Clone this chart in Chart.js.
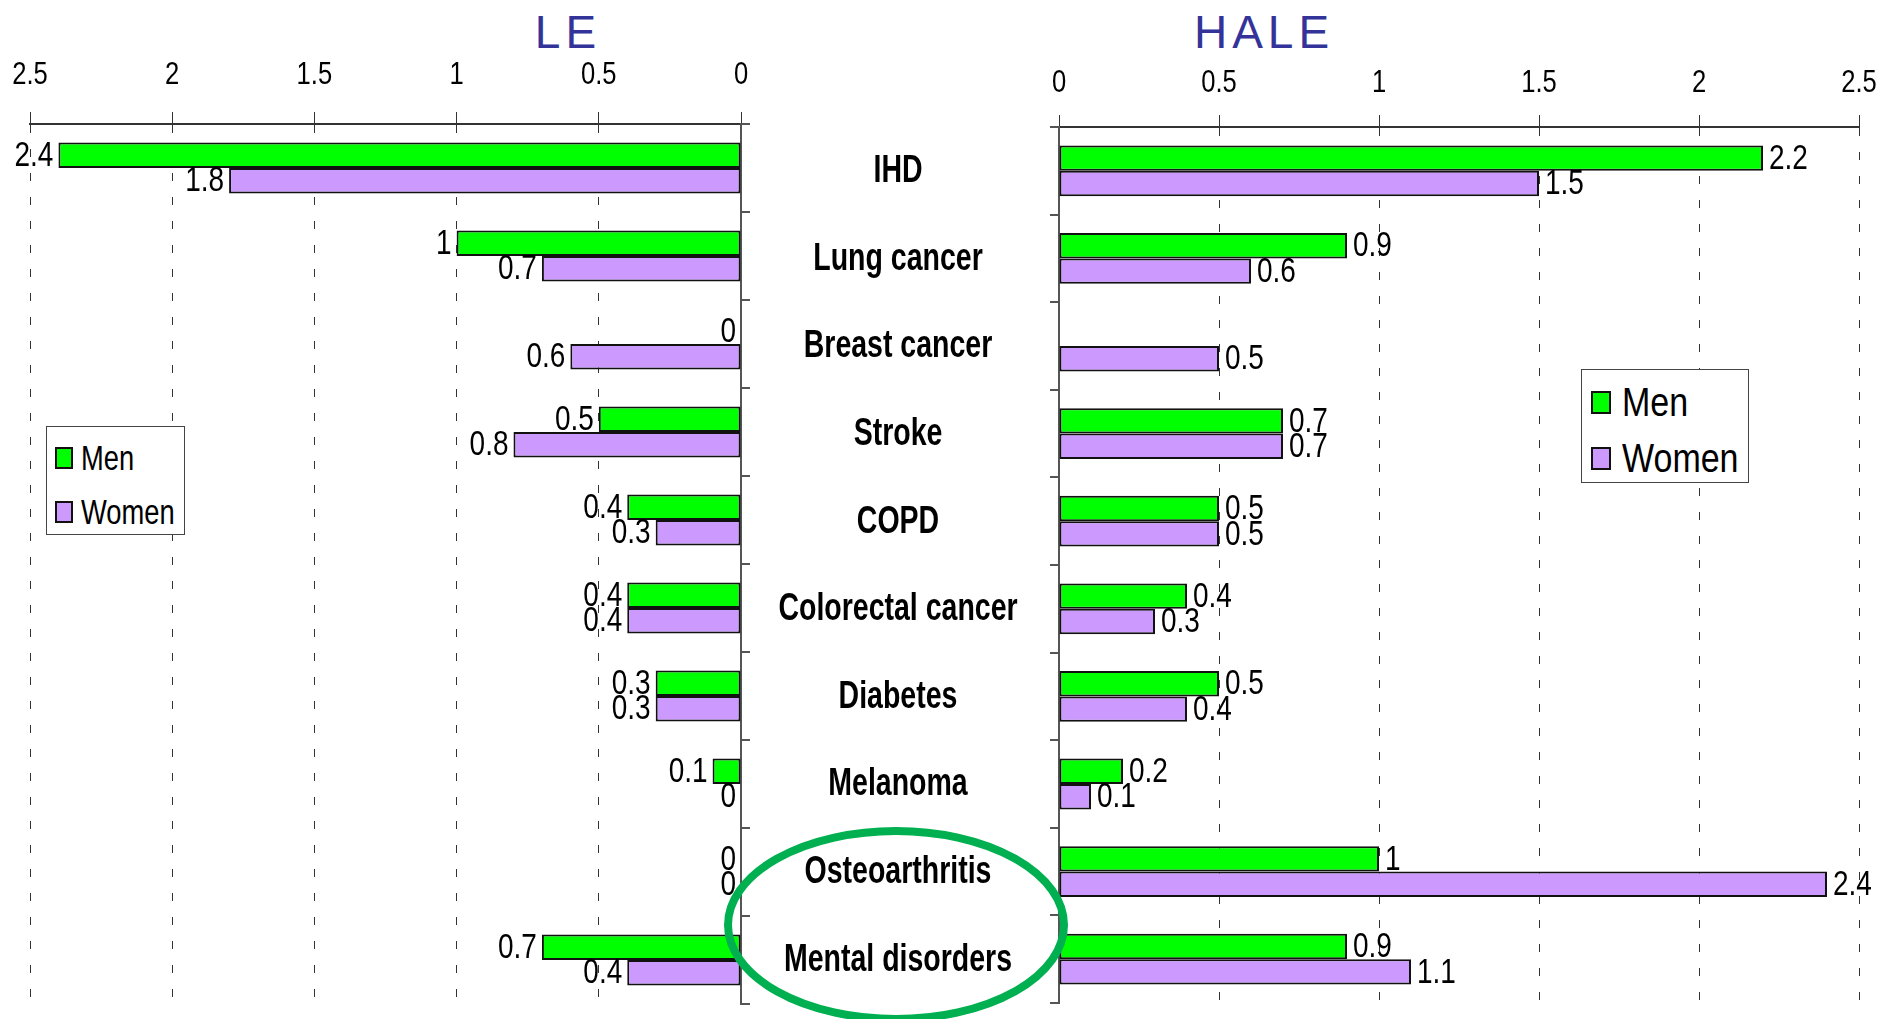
<!DOCTYPE html>
<html>
<head>
<meta charset="utf-8">
<title>LE and HALE by cause</title>
<script src="https://cdn.jsdelivr.net/npm/chart.js@4.4.1/dist/chart.umd.min.js"></script>
<style>
  body { margin:0; width:1883px; height:1019px; background:#fff; position:relative; overflow:hidden;
         font-family:'Liberation Sans',Arial,sans-serif; }
  .wrap { position:absolute; top:0; height:1019px; }
  #leftWrap { left:-40px; width:810px; }
  #rightWrap { left:745px; width:1178px; }
  .title { position:absolute; width:400px; text-align:center; font-size:46px; line-height:46px;
           letter-spacing:5px; color:#333399; }
  .legend { position:absolute; background:#fff; border:1.5px solid #444; box-sizing:border-box; }
  .legend .row { position:absolute; left:0; display:flex; align-items:center; color:#000; white-space:nowrap; }
  .legend .sw { border:2px solid #111; box-sizing:border-box; flex:none; }
  .legend span { display:inline-block; transform-origin:left center; }
  #ring { position:absolute; left:0; top:0; pointer-events:none; }
</style>
</head>
<body>

<div class="title" style="left:368px; top:9px;">LE</div>
<div class="title" style="left:1064px; top:9px;">HALE</div>

<div class="wrap" id="leftWrap"><canvas id="leChart"></canvas></div>
<div class="wrap" id="rightWrap"><canvas id="haleChart"></canvas></div>

<div class="legend" id="legLeft" style="left:46px; top:426px; width:139px; height:109px;"></div>
<div class="legend" id="legRight" style="left:1581px; top:369px; width:168px; height:114px;"></div>

<svg id="ring" width="1883" height="1019">
  <ellipse cx="896" cy="925" rx="168" ry="94" fill="none" stroke="#00B050" stroke-width="8"/>
</svg>

<script>
var categories = ['IHD', 'Lung cancer', 'Breast cancer', 'Stroke', 'COPD', 'Colorectal cancer',
                  'Diabetes', 'Melanoma', 'Osteoarthritis', 'Mental disorders'];
var seriesNames = ['Men', 'Women'];
var leMen = [2.4, 1, 0, 0.5, 0.4, 0.4, 0.3, 0.1, 0, 0.7];
var leWomen = [1.8, 0.7, 0.6, 0.8, 0.3, 0.4, 0.3, 0, 0, 0.4];
var haleMen = [2.2, 0.9, null, 0.7, 0.5, 0.4, 0.5, 0.2, 1, 0.9];
var haleWomen = [1.5, 0.6, 0.5, 0.7, 0.5, 0.3, 0.4, 0.1, 2.4, 1.1];
var xTicks = [0, 0.5, 1, 1.5, 2, 2.5];
var seriesColors = ['#00FF00', '#CC99FF'];

var FONT = "'Liberation Sans',Arial,sans-serif";

// no narrow font installed, so squeeze the text horizontally
function narrowText(ctx, text, x, y, align, sx) {
  ctx.save();
  ctx.translate(x, y);
  ctx.scale(sx, 1);
  ctx.textAlign = align;
  ctx.fillText(text, 0, 0);
  ctx.restore();
}

// axis numbers along the top
var tickLabels = {
  id: 'tickLabels',
  afterDraw: function(chart, args, opts) {
    var ctx = chart.ctx;
    var xs = chart.scales.x;
    ctx.save();
    ctx.font = '32px ' + FONT;
    ctx.fillStyle = '#000';
    ctx.textBaseline = 'middle';
    xTicks.forEach(function(v) {
      narrowText(ctx, String(v), xs.getPixelForValue(v), opts.y, 'center', 0.8);
    });
    ctx.restore();
  }
};

// value written at the end of each bar
var valueLabels = {
  id: 'valueLabels',
  afterDatasetsDraw: function(chart, args, opts) {
    var ctx = chart.ctx;
    ctx.save();
    ctx.font = '35px ' + FONT;
    ctx.fillStyle = '#000';
    ctx.textBaseline = 'middle';
    chart.data.datasets.forEach(function(ds, i) {
      chart.getDatasetMeta(i).data.forEach(function(bar, j) {
        var v = ds.data[j];
        if (v === null) return;
        if (opts.side == 'left') {
          narrowText(ctx, String(v), bar.x - 5, bar.y + 1, 'right', 0.8);
        } else {
          narrowText(ctx, String(v), bar.x + 6, bar.y + 1, 'left', 0.8);
        }
      });
    });
    ctx.restore();
  }
};

// cause names in the gap between the two panels
var categoryLabels = {
  id: 'categoryLabels',
  afterDraw: function(chart, args, opts) {
    if (!opts.show) return;
    var ctx = chart.ctx;
    var y = chart.scales.y;
    ctx.save();
    ctx.font = 'bold 38px ' + FONT;
    ctx.fillStyle = '#000';
    ctx.textBaseline = 'middle';
    categories.forEach(function(c, i) {
      narrowText(ctx, c, opts.x, y.getPixelForValue(i) + 1, 'center', 0.75);
    });
    ctx.restore();
  }
};

function makeChart(id, men, women, side) {
  var left = side == 'left';
  return new Chart(document.getElementById(id), {
    type: 'bar',
    data: {
      labels: categories,
      datasets: [
        { label: seriesNames[0], data: men, backgroundColor: seriesColors[0], borderColor: '#111',
          borderWidth: 2, borderSkipped: false, categoryPercentage: 0.58, barPercentage: 1.0 },
        { label: seriesNames[1], data: women, backgroundColor: seriesColors[1], borderColor: '#111',
          borderWidth: 2, borderSkipped: false, categoryPercentage: 0.58, barPercentage: 1.0 }
      ]
    },
    options: {
      indexAxis: 'y',
      responsive: true,
      maintainAspectRatio: false,
      animation: false,
      layout: { padding: left ? { left: 70, right: 0, top: 0, bottom: 15 }
                              : { left: 0, right: 64, top: 0, bottom: 16 } },
      plugins: {
        legend: { display: false },
        tooltip: { enabled: false },
        valueLabels: { side: side },
        tickLabels: { y: left ? 75 : 83 },
        categoryLabels: { show: !left, x: 153 }
      },
      scales: {
        x: {
          type: 'linear',
          position: 'top',
          reverse: left,
          min: 0,
          max: 2.5,
          afterBuildTicks: function(scale) {
            scale.ticks = xTicks.map(function(v) { return { value: v }; });
          },
          afterFit: function(scale) { scale.height = left ? 124 : 127; },
          ticks: { display: false },
          grid: { color: '#333', lineWidth: 1, tickLength: 12, tickBorderDash: [], tickColor: '#333' },
          border: { display: true, color: '#333', width: 2, dash: [8, 16] }
        },
        y: {
          position: left ? 'right' : 'left',
          afterFit: function(scale) { scale.width = left ? 29 : 314; },
          ticks: { display: false },
          grid: { drawOnChartArea: false, tickLength: 9, color: '#555', lineWidth: 2 },
          border: { display: true, color: '#555', width: 2 }
        }
      }
    },
    plugins: [valueLabels, tickLabels, categoryLabels]
  });
}

makeChart('leChart', leMen, leWomen, 'left');
makeChart('haleChart', haleMen, haleWomen, 'right');

// legends
function buildLegend(id, size, squeeze, sw, rows, textX) {
  var box = document.getElementById(id);
  seriesNames.forEach(function(name, i) {
    var row = document.createElement('div');
    row.className = 'row';
    row.style.top = (rows[i] - 25) + 'px';
    row.style.height = '50px';
    row.style.fontSize = size + 'px';
    var s = document.createElement('div');
    s.className = 'sw';
    s.style.width = sw[0] + 'px';
    s.style.height = sw[1] + 'px';
    s.style.marginLeft = sw[2] + 'px';
    s.style.background = seriesColors[i];
    var t = document.createElement('span');
    t.textContent = name;
    t.style.marginLeft = (textX - sw[0] - sw[2]) + 'px';
    t.style.transform = 'scaleX(' + squeeze + ')';
    row.appendChild(s);
    row.appendChild(t);
    box.appendChild(row);
  });
}
buildLegend('legLeft', 35, 0.78, [18, 22, 8], [31, 85], 34);
buildLegend('legRight', 40, 0.85, [20, 23, 9], [32, 88], 40);
</script>
</body>
</html>
